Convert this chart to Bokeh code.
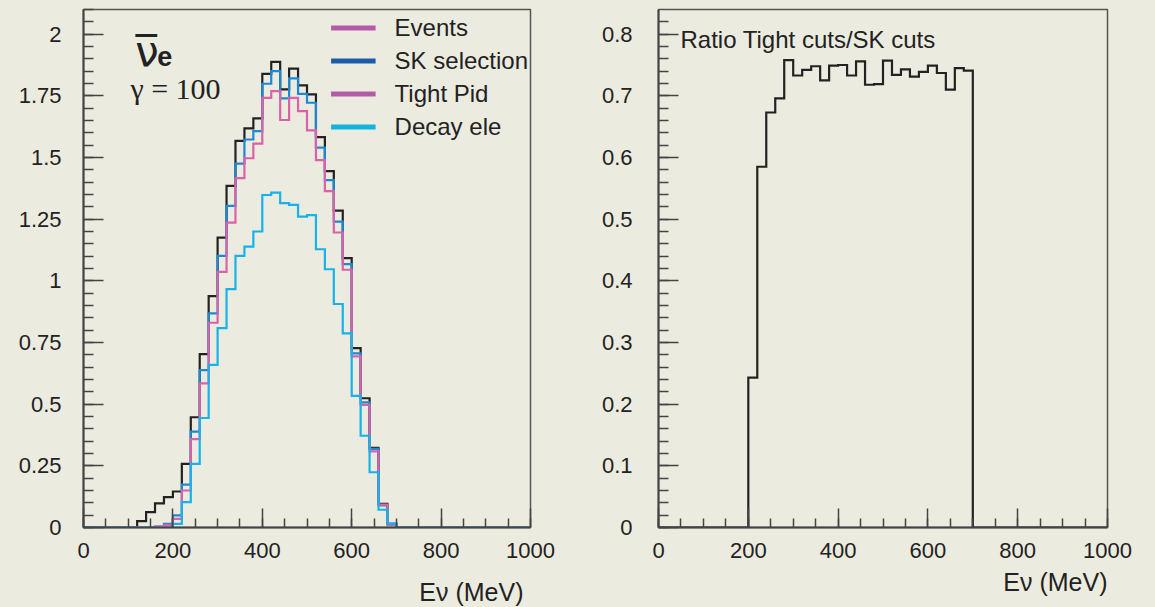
import math
from bokeh.plotting import figure
from bokeh.layouts import row
from bokeh.models import (SingleIntervalTicker, CustomJSTickFormatter, Range1d,
                          Legend, LegendItem, Title, Label)
from bokeh.embed import file_html
from bokeh.resources import INLINE

# ---------------- data (20 MeV bins, 0..1000 MeV) ----------------
bin_edges = list(range(0, 1001, 20))

events = [0, 0, 0, 0, 0, 0, 0.026, 0.062, 0.098, 0.123,
          0.146, 0.258, 0.447, 0.703, 0.938, 1.175, 1.385, 1.567, 1.618, 1.659,
          1.839, 1.888, 1.776, 1.860, 1.792, 1.756, 1.583, 1.445, 1.285, 1.092,
          0.727, 0.524, 0.323, 0.096, 0.015, 0, 0, 0, 0, 0,
          0, 0, 0, 0, 0, 0, 0, 0, 0, 0]

sk_selection = [0, 0, 0, 0, 0, 0, 0, 0, 0.004, 0.015,
                0.049, 0.174, 0.389, 0.638, 0.868, 1.101, 1.304, 1.475, 1.573, 1.607,
                1.799, 1.850, 1.740, 1.821, 1.758, 1.722, 1.540, 1.408, 1.240, 1.068,
                0.706, 0.507, 0.319, 0.090, 0.015, 0, 0, 0, 0, 0,
                0, 0, 0, 0, 0, 0, 0, 0, 0, 0]

tight_pid = [0, 0, 0, 0, 0, 0, 0, 0, 0.004, 0.010,
             0.035, 0.150, 0.358, 0.584, 0.830, 1.036, 1.236, 1.416, 1.497, 1.556,
             1.742, 1.769, 1.652, 1.742, 1.688, 1.610, 1.489, 1.364, 1.196, 1.045,
             0.694, 0.497, 0.309, 0.093, 0.010, 0, 0, 0, 0, 0,
             0, 0, 0, 0, 0, 0, 0, 0, 0, 0]

decay_ele = [0, 0, 0, 0, 0, 0, 0, 0, 0, 0,
             0.015, 0.103, 0.258, 0.444, 0.659, 0.808, 0.966, 1.101, 1.139, 1.200,
             1.348, 1.358, 1.315, 1.308, 1.260, 1.266, 1.128, 1.047, 0.906, 0.787,
             0.534, 0.372, 0.224, 0.072, 0.015, 0, 0, 0, 0, 0,
             0, 0, 0, 0, 0, 0, 0, 0, 0, 0]

ratio_tight_sk = [0, 0, 0, 0, 0, 0, 0, 0, 0, 0,
                  0.243, 0.585, 0.673, 0.696, 0.758, 0.733, 0.742, 0.748, 0.725, 0.749,
                  0.750, 0.733, 0.756, 0.718, 0.719, 0.757, 0.734, 0.743, 0.731, 0.739,
                  0.749, 0.737, 0.710, 0.745, 0.741, 0, 0, 0, 0, 0,
                  0, 0, 0, 0, 0, 0, 0, 0, 0, 0]

legend_labels = ["Events", "SK selection", "Tight Pid", "Decay ele"]
legend_colors = ["#B35AA8", "#1A5CA8", "#B35AA8", "#14B4DA"]
line_colors = ["#222222", "#1E88D0", "#DA62A8", "#16B2EA"]

x_label = "E\u03bd (MeV)"
ratio_title = "Ratio Tight cuts/SK cuts"

BG = "#ECEBDF"
FONT = "Liberation Sans"
TXT = "#222222"


def closed(vals):
    return list(vals) + [vals[-1]]


fmt = CustomJSTickFormatter(code="return String(Math.round(tick*1000)/1000);")


def style(p, y_interval, y_minor, y_standoff):
    p.background_fill_color = BG
    p.border_fill_color = BG
    p.outline_line_color = "#555555"
    p.outline_line_width = 1.5
    p.xgrid.visible = False
    p.ygrid.visible = False
    p.xaxis.ticker = SingleIntervalTicker(interval=200, num_minor_ticks=4)
    p.yaxis.ticker = SingleIntervalTicker(interval=y_interval, num_minor_ticks=y_minor)
    p.yaxis.formatter = fmt
    for ax in (p.xaxis[0], p.yaxis[0]):
        ax.axis_line_color = "#444444"
        ax.axis_line_width = 2
        ax.major_tick_line_color = "#444444"
        ax.minor_tick_line_color = "#444444"
        ax.major_tick_line_width = 1.5
        ax.minor_tick_line_width = 1.5
        ax.major_tick_out = 0
        ax.minor_tick_out = 0
        ax.major_label_text_font = FONT
        ax.major_label_text_font_size = "22px"
        ax.major_label_text_color = TXT
    p.xaxis.major_tick_in = 19
    p.xaxis.minor_tick_in = 9
    p.yaxis.major_tick_in = 20
    p.yaxis.minor_tick_in = 10
    p.xaxis.major_label_standoff = 15
    p.yaxis.major_label_standoff = y_standoff


# ---------------- left panel ----------------
p1 = figure(frame_width=447, frame_height=518, min_border_left=83, min_border_right=66,
            min_border_top=9, min_border_bottom=80,
            x_range=Range1d(0, 1000), y_range=Range1d(0, 2.1),
            output_backend="svg", toolbar_location=None)
style(p1, 0.25, 5, 22)

series = [events, sk_selection, tight_pid, decay_ele]
for vals, col in zip(series, line_colors):
    p1.step(x=bin_edges, y=closed(vals), mode="after", line_color=col,
            line_width=2.2, line_join="miter")

dummies = [p1.line(x=[math.nan], y=[math.nan], line_color=c, line_width=5)
           for c in legend_colors]
legend = Legend(items=[LegendItem(label=l, renderers=[r]) for l, r in zip(legend_labels, dummies)],
                location="top_right", border_line_alpha=0, background_fill_alpha=0,
                label_text_font=FONT, label_text_font_size="24px", label_text_color=TXT,
                glyph_width=45, glyph_height=33, label_height=33, spacing=0,
                label_standoff=19, padding=2, margin=0)
p1.add_layout(legend)

p1.add_layout(Label(x=116, y=1.931, text="\u03bd\u0305", text_font="DejaVu Sans",
                    text_font_size="42px", text_color=TXT, text_baseline="alphabetic"))
p1.add_layout(Label(x=165, y=1.911, text="e", text_font=FONT, text_font_style="bold",
                    text_font_size="27px", text_color=TXT, text_baseline="alphabetic"))
p1.add_layout(Label(x=105, y=1.781, text="\u03b3 = 100", text_font="Liberation Serif",
                    text_font_size="30px", text_color=TXT, text_baseline="alphabetic"))

p1.add_layout(Title(text=x_label, align="right", offset=7, standoff=31,
                    text_font=FONT, text_font_size="25px", text_font_style="normal",
                    text_color=TXT), "below")

# ---------------- right panel ----------------
p2 = figure(frame_width=449, frame_height=518, min_border_left=62, min_border_right=48,
            min_border_top=9, min_border_bottom=80,
            x_range=Range1d(0, 1000), y_range=Range1d(0, 0.84),
            output_backend="svg", toolbar_location=None)
style(p2, 0.1, 5, 26)

p2.step(x=bin_edges, y=closed(ratio_tight_sk), mode="after", line_color="#222222",
        line_width=2.2, line_join="miter")

p2.add_layout(Label(x=49, y=0.792, text=ratio_title, text_font=FONT,
                    text_font_size="24px", text_color=TXT, text_baseline="alphabetic"))

p2.add_layout(Title(text=x_label, align="right", offset=0, standoff=10,
                    text_font=FONT, text_font_size="25px", text_font_style="normal",
                    text_color=TXT), "below")

layout = row(p1, p2, spacing=0)
layout.styles = {"background-color": BG}

open("out.html", "w").write(file_html(layout, INLINE))
